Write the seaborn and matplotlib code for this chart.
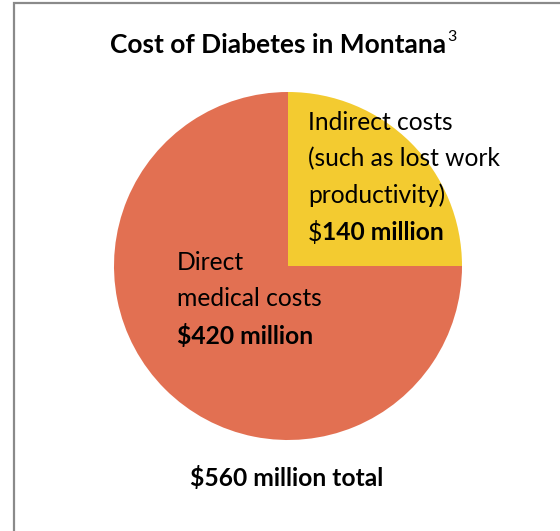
import matplotlib
matplotlib.use("Agg")
import matplotlib.pyplot as plt
import seaborn as sns

sns.set_theme(style="white")
plt.rcParams['font.family'] = ['Lato', 'DejaVu Sans']

categories = ["Indirect costs", "Direct medical costs"]
values = [140, 420]
colors = ["#F3CB30", "#E27052"]
title = "Cost of Diabetes in Montana"
total_label = "$560 million total"

W, H = 560, 531
fig = plt.figure(figsize=(W / 100, H / 100), dpi=100)
ax = fig.add_axes([0, 0, 1, 1])

def Y(py):
    return H - py

ax.pie(values, colors=colors, startangle=90, counterclock=False,
       center=(288, Y(266)), radius=174, frame=True,
       wedgeprops=dict(linewidth=0))
ax.set_xlim(0, W)
ax.set_ylim(0, H)
ax.set_aspect('equal')
ax.axis('off')

# border
ax.plot([14, 14, W + 5], [-5, Y(3), Y(3)], color="#8a8a8a", lw=1.6,
        solid_joinstyle='miter', clip_on=False)

fs = 17.7
# title
tt = ax.text(110, Y(45), title, ha='left', va='center', fontsize=19,
             fontweight='bold', color='black')
fig.canvas.draw()
tb = tt.get_window_extent()
ax.text(110 + tb.width + 1, Y(37), "3", ha='left', va='center', fontsize=11.5, color='black')

# indirect label
x0 = 308
for i, line in enumerate(["Indirect costs", "(such as lost work", "productivity)"]):
    ax.text(x0, Y(123 + 36 * i), line, ha='left', va='center', fontsize=fs, color='black')
t = ax.text(x0, Y(233), "$", ha='left', va='center', fontsize=fs, color='black')
fig.canvas.draw()
bb = t.get_window_extent()
ax.text(x0 + bb.width, Y(233), "140 million", ha='left', va='center', fontsize=fs,
        fontweight='bold', color='black')

# direct label
x1 = 177
ax.text(x1, Y(263), "Direct", ha='left', va='center', fontsize=fs, color='black')
ax.text(x1, Y(299), "medical costs", ha='left', va='center', fontsize=fs, color='black')
ax.text(x1, Y(336), "$420 million", ha='left', va='center', fontsize=fs,
        fontweight='bold', color='black')

ax.text(287, Y(478), total_label, ha='center', va='center', fontsize=fs,
        fontweight='bold', color='black')

fig.savefig("out.png", dpi=100)
